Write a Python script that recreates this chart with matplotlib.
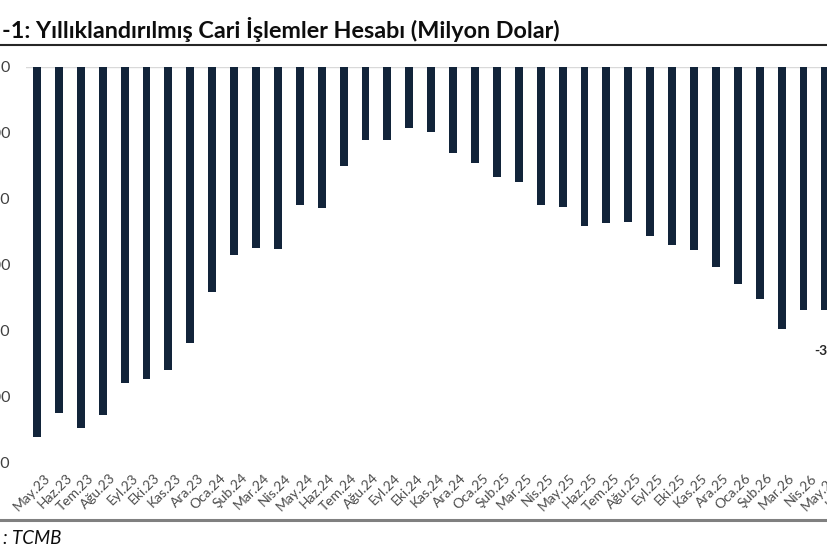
import numpy as np
import matplotlib
matplotlib.use("Agg")
import matplotlib.pyplot as plt
from matplotlib.lines import Line2D
from matplotlib.ticker import FuncFormatter
import matplotlib.transforms as mtransforms

# yıllıklandırılmış cari işlemler hesabı, milyon dolar
months = ["May.23", "Haz.23", "Tem.23", "Ağu.23", "Eyl.23", "Eki.23", "Kas.23", "Ara.23",
          "Oca.24", "Şub.24", "Mar.24", "Nis.24", "May.24", "Haz.24", "Tem.24", "Ağu.24",
          "Eyl.24", "Eki.24", "Kas.24", "Ara.24",
          "Oca.25", "Şub.25", "Mar.25", "Nis.25", "May.25", "Haz.25", "Tem.25", "Ağu.25",
          "Eyl.25", "Eki.25", "Kas.25", "Ara.25",
          "Oca.26", "Şub.26", "Mar.26", "Nis.26", "May.26", "Haz.26"]
values = [-56200, -52560, -54840, -52860, -48000, -47390, -46020, -41920,
          -34180, -28560, -27490, -27650, -20960, -21420, -15040, -11090,
          -11090, -9270, -9870, -13060,
          -14580, -16710, -17470, -20960, -21270, -24150, -23700, -23540,
          -25670, -27040, -27800, -30380,
          -32960, -35240, -39800, -36910, -36910, -37400]
y_ticks = [0, -10000, -20000, -30000, -40000, -50000, -60000]

title = "-1: Yıllıklandırılmış Cari İşlemler Hesabı (Milyon Dolar)"
source = ": TCMB"

plt.rcParams["font.family"] = ["Lato", "DejaVu Sans"]

W, H = 828, 552


def tr_fmt(v, pos=None):
    s = f"{abs(v):,.0f}".replace(",", ".")
    return ("-" if v < 0 else "") + s


def main():
    fig = plt.figure(figsize=(W / 100, H / 100), dpi=100)
    fig.patch.set_facecolor("white")

    n = len(values)
    step = 21.9
    left_px = 37 - step / 2
    ax = fig.add_axes([left_px / W, (H - 462) / H, n * step / W, 395 / H])
    x = np.arange(n)
    ax.bar(x, values, width=0.36, color="#12243a", zorder=3)
    ax.set_xlim(-0.5, n - 0.5)
    ax.set_ylim(-60000, 0)
    ax.axhline(0, color="#d9d9d9", lw=1, zorder=2)

    for s in ax.spines.values():
        s.set_visible(False)

    ax.set_yticks(y_ticks)
    ax.yaxis.set_major_formatter(FuncFormatter(tr_fmt))
    ax.tick_params(axis="y", length=0, pad=11.5, labelsize=11.5, labelcolor="#404040")

    ax.set_xticks(x)
    ax.set_xticklabels(months, rotation=45, ha="right", rotation_mode="anchor",
                       fontsize=10, color="#4d4d4d")
    ax.tick_params(axis="x", length=0, pad=7)
    offset = mtransforms.ScaledTranslation(5 / 72, 0, fig.dpi_scale_trans)
    for lbl in ax.get_xticklabels():
        lbl.set_transform(lbl.get_transform() + offset)

    # son değerin etiketi
    ax.annotate(tr_fmt(values[-1]), (x[-1], values[-1]), xytext=(-6, -27),
                textcoords="offset points", ha="center", va="center",
                fontsize=10, fontweight="bold", color="#262626")

    fig.text(2 / W, 1 - 30 / H, title, ha="left", va="center",
             fontsize=16.8, fontweight="bold", color="#0d0d0d")
    fig.add_artist(Line2D([0, 1], [1 - 45 / H, 1 - 45 / H], transform=fig.transFigure,
                          color="#262626", lw=1.5))
    fig.add_artist(Line2D([0, 1], [1 - 520 / H, 1 - 520 / H], transform=fig.transFigure,
                          color="#808080", lw=2.2))
    fig.text(3 / W, 1 - 538 / H, source, ha="left", va="center",
             fontsize=13.5, fontstyle="italic", color="#0d0d0d")

    fig.savefig("out.png", dpi=100)


if __name__ == "__main__":
    main()
